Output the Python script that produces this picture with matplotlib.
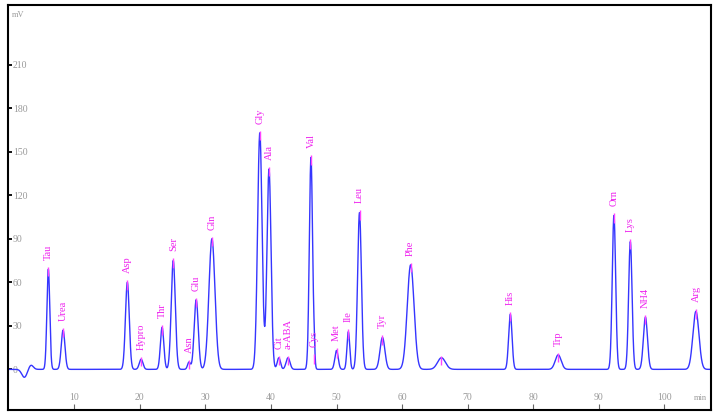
import numpy as np
import matplotlib.pyplot as plt

# peaks: name, retention time (min), height (mV), width (min)
names  = ["Tau", "Urea", "Asp", "Hypro", "Thr", "Ser", "Asn", "Glu", "Gln",
          "Gly", "Ala", "Cit", "a-ABA", "Val", "Cys", "Met", "Ile", "Leu",
          "Tyr", "Phe", "", "His", "Trp", "Orn", "Lys", "NH4", "Arg"]
rt     = [6.05, 8.3, 18.1, 20.2, 23.4, 25.1, 27.5, 28.6, 31.0,
          38.3, 39.7, 41.2, 42.6, 46.1, 46.6, 50.0, 51.8, 53.5,
          57.0, 61.3, 66.0, 76.5, 83.8, 92.3, 94.8, 97.1, 104.8]
height = [69, 27, 60, 7, 29, 75, 5, 48, 90,
          163, 138, 8, 8, 146, 9, 13, 26, 108,
          22, 72, 8, 38, 10, 106, 88, 36, 40]
width  = [0.22, 0.28, 0.29, 0.28, 0.26, 0.31, 0.22, 0.31, 0.46,
          0.34, 0.31, 0.25, 0.30, 0.25, 0.10, 0.26, 0.21, 0.29,
          0.37, 0.52, 0.60, 0.26, 0.45, 0.26, 0.26, 0.31, 0.46]

# injection disturbance at the start of the run
dist_rt = [2.4, 3.4]
dist_h = [-5.5, 3.0]
dist_w = [0.40, 0.35]

t = np.linspace(0, 107, 5000)
signal = np.zeros_like(t)
for r, h, w in zip(rt + dist_rt, height + dist_h, width + dist_w):
    signal += h * np.exp(-0.5 * ((t - r) / w) ** 2)

fig = plt.figure(figsize=(7.16, 4.13), dpi=100)
ax = fig.add_axes([8 / 716, 3 / 413, 703 / 716, 405 / 413])
ax.plot(t, signal, color='#3535ff', lw=1.0)

# apex markers and rotated labels
for name, r, h in zip(names, rt, height):
    ax.vlines(r, h - 5, h + 1.5, color='#ff44ff', lw=1)
    if name:
        ax.annotate(name, (r, h + 1.5), xytext=(0, 5), textcoords='offset points',
                    rotation=90, ha='center', va='bottom', color='#ee22ee',
                    fontsize=7.5, family='Liberation Serif')

ax.set_xlim(-0.1, 107.1)
ax.set_ylim(-28, 251)
ax.set_xticks(range(10, 101, 10))
ax.set_yticks(range(0, 211, 30))

for s in ax.spines.values():
    s.set_linewidth(1.5)

ax.tick_params(axis='y', direction='in', length=3, width=1.3, pad=-3.5,
               labelsize=7, labelcolor='#999999')
ax.tick_params(axis='x', direction='in', length=4, width=0.8, color='#666666',
               pad=-6, labelsize=7, labelcolor='#999999')
plt.setp(ax.get_yticklabels(), ha='left', family='Liberation Serif')
plt.setp(ax.get_xticklabels(), va='bottom', family='Liberation Serif')

fig.text(12 / 716, 1 - 15 / 413, 'mV', fontsize=6, color='#999999',
         va='center', family='Liberation Serif')
fig.text(700 / 716, 1 - 398 / 413, 'min', fontsize=6, color='#999999',
         ha='center', va='center', family='Liberation Serif')

fig.savefig('out.png', dpi=100)
